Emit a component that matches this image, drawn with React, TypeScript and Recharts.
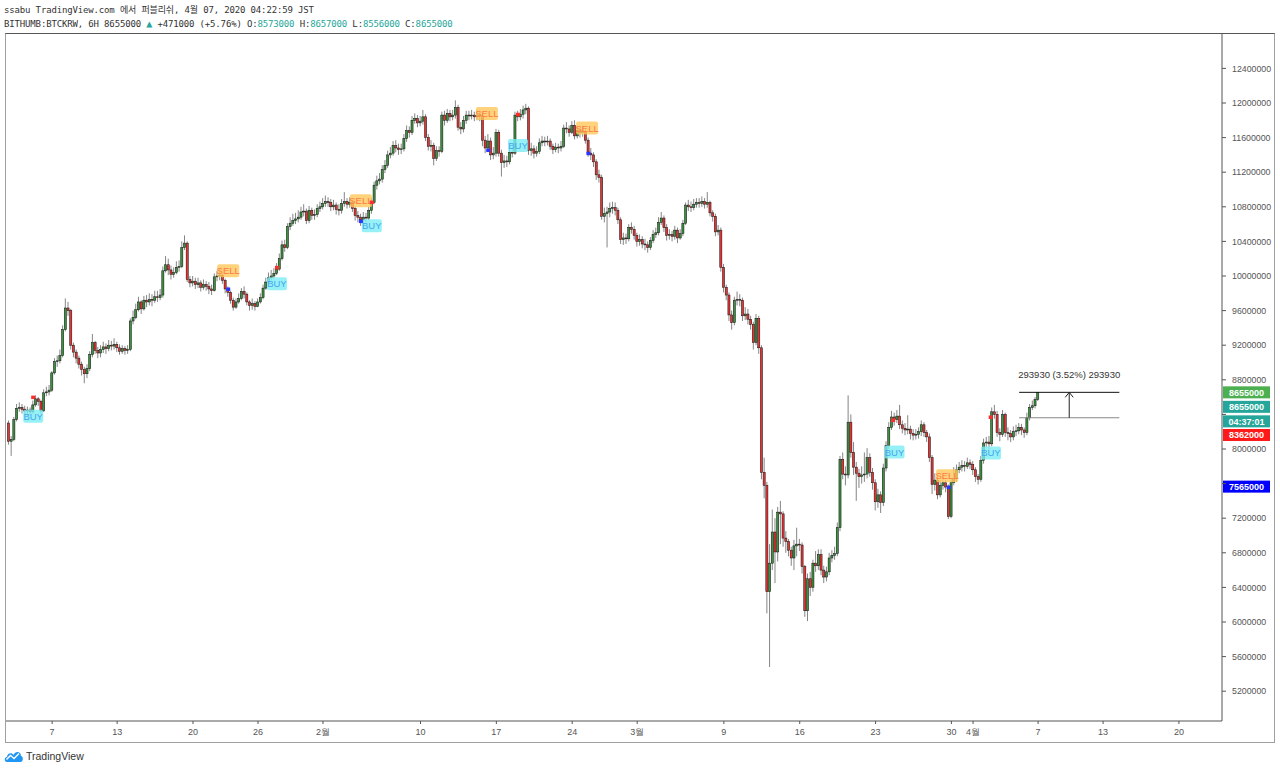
import {
  ComposedChart,
  Bar,
  XAxis,
  YAxis,
  ReferenceLine,
  ReferenceDot,
} from "recharts";

const UP = "#3a923c";
const DOWN = "#ea3232";
const TEAL = "#26a69a";
const AXIS = "#555";

// 6H candles of BITHUMB:BTCKRW, values in thousands of KRW, opens = previous close
const firstOpen = 8300;

const janClose = [
  8090, 8110, 8340, 8470, 8480, 8460, 8440, 8450, 8430, 8510,
  8580, 8550, 8440, 8650, 8660, 8680, 8880, 9010, 9020, 9080,
  9380, 9630, 9600, 9200, 9120, 9050, 8980, 8920, 8870, 8930,
  9090, 9230, 9140, 9110, 9150, 9180, 9160, 9200, 9190, 9210,
  9170, 9130, 9160, 9140, 9150, 9480, 9520, 9610, 9700, 9620,
  9720, 9700, 9730, 9720, 9760, 9750, 9780, 10060, 10130, 10070,
  10020, 10040, 10100, 10110, 10330, 10380, 9960, 9920, 9940, 9900,
  9920, 9870, 9900, 9880, 9850, 9830, 9990, 10000, 10010, 9950,
  9850, 9810, 9720, 9640, 9700, 9740, 9820, 9790, 9700, 9660,
  9680, 9650, 9700, 9750, 9860, 9930, 9980, 10000, 10030, 10080,
  10200, 10360, 10330, 10570, 10610, 10640, 10660, 10680, 10740, 10750,
  10640, 10760, 10700, 10710, 10780, 10800,
];
const janHigh = [
  8330, 8150, 8370, 8520, 8540, 8520, 8500, 8490, 8480, 8560,
  8620, 8600, 8570, 8690, 8720, 8740, 8900, 9050, 9080, 9150,
  9430, 9740, 9700, 9620, 9230, 9150, 9080, 9010, 8950, 8980,
  9130, 9330, 9250, 9180, 9200, 9240, 9220, 9260, 9250, 9280,
  9240, 9210, 9200, 9190, 9200, 9510, 9600, 9680, 9760, 9720,
  9770, 9780, 9800, 9790, 9830, 9830, 9850, 10110, 10230, 10200,
  10120, 10100, 10170, 10180, 10400, 10470, 10400, 10000, 10000, 9980,
  9980, 9950, 9960, 9940, 9930, 9900, 10030, 10060, 10080, 10030,
  9970, 9880, 9830, 9750, 9740, 9800, 9860, 9880, 9810, 9720,
  9740, 9710, 9740, 9800, 9900, 9980, 10040, 10070, 10090, 10150,
  10260, 10410, 10420, 10610, 10680, 10720, 10730, 10760, 10800, 10830,
  10780, 10810, 10790, 10770, 10830, 10860,
];
const janLow = [
  8050, 7920, 8090, 8320, 8430, 8410, 8400, 8380, 8390, 8410,
  8490, 8500, 8410, 8430, 8610, 8620, 8660, 8860, 8950, 8990,
  9060, 9360, 9540, 9150, 9060, 8990, 8930, 8850, 8760, 8820,
  8900, 9060, 9100, 9050, 9060, 9110, 9100, 9130, 9140, 9150,
  9120, 9090, 9100, 9090, 9100, 9130, 9440, 9500, 9590, 9560,
  9600, 9640, 9660, 9650, 9690, 9700, 9720, 9750, 10040, 10010,
  9960, 9980, 10020, 10050, 10090, 10300, 9930, 9870, 9880, 9850,
  9860, 9820, 9840, 9830, 9790, 9780, 9820, 9940, 9950, 9910,
  9800, 9760, 9680, 9600, 9620, 9680, 9720, 9740, 9660, 9600,
  9610, 9600, 9640, 9680, 9730, 9840, 9910, 9950, 9970, 10010,
  10060, 10180, 10280, 10310, 10530, 10580, 10600, 10620, 10650, 10690,
  10600, 10610, 10650, 10650, 10680, 10740,
];

const febClose = [
  10840, 10860, 10850, 10800, 10820, 10770, 10760, 10840, 10860, 10830,
  10850, 10780, 10700, 10680, 10650, 10680, 10670, 10760, 10850, 11050,
  11100, 11120, 11230, 11280, 11400, 11420, 11510, 11480, 11460, 11470,
  11590, 11680, 11660, 11800, 11820, 11770, 11790, 11840, 11600, 11500,
  11510, 11360, 11450, 11440, 11860, 11800, 11880, 11840, 11860, 11950,
  11720, 11700, 11800, 11860, 11850, 11860, 11840, 11860, 11850, 11570,
  11480, 11560, 11400, 11420, 11660, 11420, 11310, 11330, 11320, 11430,
  11420, 11860, 11840, 11870, 11920, 11940, 11450, 11470, 11420, 11440,
  11540, 11560, 11550, 11560, 11500, 11460, 11490, 11480, 11500, 11710,
  11700, 11660, 11740, 11620, 11680, 11660, 11670, 11570, 11420, 11400,
  11320, 11170, 11140, 10690, 10720, 10740, 10780, 10790, 10760, 10650,
  10420, 10440, 10430, 10560, 10540, 10470,
];
const febHigh = [
  10900, 10930, 10910, 10890, 10880, 10850, 10830, 10890, 10970, 10900,
  10910, 10880, 10800, 10750, 10720, 10740, 10730, 10800, 10900, 11090,
  11160, 11190, 11280, 11340, 11450, 11490, 11560, 11570, 11530, 11530,
  11640, 11740, 11730, 11850, 11880, 11860, 11850, 11920, 11870, 11640,
  11570, 11540, 11500, 11500, 11900, 11910, 11930, 11920, 11920, 12030,
  11980, 11780, 11850, 11910, 11910, 11920, 11900, 11920, 11910, 11880,
  11620, 11640, 11600, 11490, 11700, 11690, 11460, 11400, 11390, 11480,
  11490, 11900, 11910, 11930, 11970, 11990, 11960, 11540, 11510, 11500,
  11590, 11620, 11610, 11620, 11590, 11530, 11540, 11530, 11560, 11750,
  11780, 11740, 11790, 11800, 11740, 11720, 11740, 11700, 11600, 11480,
  11430, 11350, 11230, 11170, 10790, 10800, 10850, 10860, 10850, 10790,
  10680, 10500, 10490, 10600, 10620, 10580,
];
const febLow = [
  10770, 10800, 10800, 10750, 10760, 10710, 10700, 10720, 10800, 10780,
  10790, 10740, 10640, 10620, 10580, 10600, 10620, 10640, 10720, 10830,
  11000, 11060, 11080, 11190, 11250, 11360, 11390, 11430, 11400, 11410,
  11440, 11550, 11600, 11630, 11760, 11720, 11730, 11750, 11560, 11450,
  11440, 11280, 11330, 11380, 11420, 11740, 11770, 11790, 11800, 11820,
  11680, 11640, 11660, 11760, 11800, 11810, 11790, 11800, 11790, 11500,
  11420, 11440, 11340, 11350, 11380, 11380, 11150, 11250, 11260, 11290,
  11370, 11400, 11790, 11800, 11820, 11870, 11400, 11390, 11360, 11380,
  11410, 11500, 11500, 11510, 11460, 11410, 11430, 11420, 11440, 11480,
  11650, 11610, 11640, 11580, 11590, 11600, 11610, 11530, 11380, 11340,
  11260, 11110, 11080, 10650, 10620, 10330, 10680, 10720, 10700, 10600,
  10370, 10360, 10370, 10400, 10490, 10420,
];

const marClose = [
  10400, 10420, 10370, 10360, 10330, 10410, 10480, 10500, 10620, 10670,
  10560, 10470, 10480, 10460, 10530, 10440, 10490, 10610, 10820, 10800,
  10790, 10830, 10850, 10840, 10860, 10830, 10850, 10730, 10690, 10510,
  10530, 10100, 9870, 9780, 9550, 9460, 9720, 9730, 9720, 9540,
  9560, 9500, 9440, 9230, 9510, 9170, 7730, 7580, 6350, 6680,
  7040, 6810, 7270, 7250, 6970, 6930, 6830, 6740, 6880, 6900,
  6890, 6640, 6130, 6500, 6400, 6680, 6650, 6780, 6600, 6520,
  6580, 6740, 6770, 6790, 7090, 7880, 7710, 7700, 8310, 7960,
  7790, 7720, 7680, 7700, 7710, 7900, 7730, 7610, 7390, 7470,
  7380, 7780, 8040, 8250, 8370, 8340, 8380, 8280, 8240, 8220,
  8230, 8180, 8160, 8170, 8200, 8280, 8190, 8140, 7900, 7590,
  7640, 7470, 7580, 7610, 7560, 7220, 7610, 7660, 7760, 7790,
  7810, 7800, 7840, 7820,
];
const marHigh = [
  10500, 10480, 10460, 10430, 10400, 10450, 10530, 10560, 10680, 10740,
  10700, 10600, 10540, 10520, 10580, 10560, 10540, 10650, 10850, 10880,
  10860, 10890, 10900, 10900, 10920, 10900, 10970, 10870, 10760, 10720,
  10590, 10560, 10140, 9900, 9810, 9600, 9760, 9820, 9790, 9750,
  9640, 9620, 9540, 9470, 9560, 9540, 9200, 7900, 7620, 6900,
  7300, 7200, 7330, 7400, 7280, 7050, 6960, 6870, 6950, 7090,
  6960, 6920, 6660, 6560, 6580, 6720, 6820, 6840, 6840, 6650,
  6640, 6800, 6830, 6870, 7150, 7920, 7960, 7800, 8620, 8400,
  8080, 7850, 7770, 7800, 7960, 8010, 7950, 7780, 7650, 7540,
  7510, 7830, 8090, 8310, 8440, 8420, 8450, 8510, 8330, 8300,
  8390, 8270, 8230, 8230, 8250, 8330, 8310, 8220, 8180, 7930,
  7720, 7690, 7640, 7680, 7640, 7590, 7650, 7790, 7820, 7850,
  7870, 7860, 7900, 7880,
];
const marLow = [
  10340, 10350, 10320, 10300, 10270, 10300, 10380, 10440, 10470, 10590,
  10510, 10410, 10420, 10400, 10420, 10380, 10420, 10460, 10590, 10750,
  10740, 10760, 10790, 10790, 10800, 10780, 10790, 10690, 10630, 10460,
  10470, 10050, 9810, 9720, 9480, 9380, 9430, 9660, 9650, 9480,
  9490, 9440, 9380, 9150, 9200, 9100, 7650, 7430, 6100, 5480,
  6600, 6450, 6700, 6900, 6870, 6800, 6760, 6650, 6600, 6760,
  6820, 6560, 6060, 6010, 6300, 6350, 6580, 6600, 6540, 6450,
  6470, 6540, 6690, 6720, 6760, 7050, 7650, 7580, 7660, 7900,
  7700, 7400, 7550, 7600, 7620, 7660, 7680, 7530, 7290, 7320,
  7260, 7340, 7740, 8000, 8220, 8270, 8300, 8230, 8180, 8160,
  8170, 8110, 8100, 8110, 8120, 8150, 8140, 8080, 7850, 7480,
  7520, 7420, 7440, 7530, 7500, 7190, 7200, 7580, 7620, 7720,
  7740, 7740, 7770, 7770,
];

const aprClose = [
  7760, 7680, 7650, 7870, 8070, 8080, 8060, 8430, 8400, 8190,
  8170, 8400, 8190, 8180, 8140, 8200, 8210, 8250, 8220, 8190,
  8360, 8480, 8500, 8573, 8655,
];
const aprHigh = [
  7860, 7790, 7710, 7920, 8120, 8140, 8150, 8480, 8510, 8440,
  8240, 8450, 8420, 8250, 8220, 8260, 8280, 8300, 8290, 8250,
  8420, 8520, 8560, 8600, 8657,
];
const aprLow = [
  7700, 7620, 7590, 7620, 7830, 8020, 7990, 8030, 8350, 8140,
  8090, 8140, 8140, 8100, 8080, 8100, 8150, 8170, 8160, 8130,
  8160, 8330, 8450, 8470, 8556,
];

// x axis: candle index counted from 2020-01-03 00:00, one step = 6 hours
const startMs = Date.UTC(2020, 0, 3);
const stepMs = 6 * 3600 * 1000;
const tickDates = [
  "2020-01-07", "2020-01-13", "2020-01-20", "2020-01-26", "2020-02-01",
  "2020-02-10", "2020-02-17", "2020-02-24", "2020-03-01", "2020-03-09",
  "2020-03-16", "2020-03-23", "2020-03-30", "2020-04-01", "2020-04-07",
  "2020-04-13", "2020-04-20",
];
const tickLabels = [
  "7", "13", "20", "26", "2월", "10", "17", "24", "3월", "9",
  "16", "23", "30", "4월", "7", "13", "20",
];
const xTicks = tickDates.map((d) => (Date.parse(d) - startMs) / stepMs);

const yTicks = [
  5200000, 5600000, 6000000, 6400000, 6800000, 7200000, 7600000, 8000000,
  8400000, 8800000, 9200000, 9600000, 10000000, 10400000, 10800000,
  11200000, 11600000, 12000000, 12400000,
];
// tick labels that sit under the price tags on the scale
const coveredTicks = [7600000, 8400000];

// BUY / SELL signal labels (candle index, price in thousands)
const signalIdx = [9, 81, 99, 130, 134, 176.5, 188, 213.5, 327, 346.4, 362.6];
const signalPrice = [8380, 10060, 9910, 10870, 10580, 11880, 11510, 11710, 7965, 7690, 7955];
const signalKind = ["BUY", "SELL", "BUY", "SELL", "BUY", "SELL", "BUY", "SELL", "BUY", "SELL", "BUY"];

const blueIdx = [81, 130, 177, 214, 347];
const bluePrice = [9850, 10635, 11456, 11420, 7560];
const redIdx = [9, 99, 134, 188, 326.5, 362.5];
const redPrice = [8600, 10100, 10855, 11870, 8335, 8370];

// price tags on the right scale
const lastPrice = 8655000;
const indicatorPrice = 8362000;
const bluePriceTag = 7565000;
const countdown = "04:37:01";

// measuring tool
const measureTop = 8655000;
const measureDelta = 293930;
const measureFrom = 373;
const measureTo = 410;

const closes = [...janClose, ...febClose, ...marClose, ...aprClose];
const highs = [...janHigh, ...febHigh, ...marHigh, ...aprHigh];
const lows = [...janLow, ...febLow, ...marLow, ...aprLow];

const candles = closes.map((c, i) => {
  const o = (i === 0 ? firstOpen : closes[i - 1]) * 1000;
  const cl = c * 1000;
  const h = Math.max(highs[i] * 1000, o, cl);
  const l = Math.min(lows[i] * 1000, o, cl);
  return { i, o, c: cl, h, l, range: [l, h] };
});

const Candle = (props: any) => {
  const { x, y, width, height, payload } = props;
  if (!payload || height == null) return null;
  const { o, c, h, l } = payload;
  const cx = x + width / 2;
  const span = h - l || 1;
  const py = (v: number) => y + ((h - v) / span) * height;
  const top = py(Math.max(o, c));
  const bot = py(Math.min(o, c));
  return (
    <g>
      <line x1={cx} x2={cx} y1={y} y2={y + height} stroke="#777" strokeWidth={0.9} />
      <rect
        x={cx - 1.05}
        y={top}
        width={2.1}
        height={Math.max(bot - top, 0.8)}
        fill={c >= o ? UP : DOWN}
        stroke="#1a1a1a"
        strokeWidth={0.55}
      />
    </g>
  );
};

const PriceTag = (props: any) => {
  const { viewBox, text, bg, dy } = props;
  if (!viewBox) return null;
  const x = viewBox.x + viewBox.width;
  const y = viewBox.y + dy;
  return (
    <g>
      <rect x={x + 1} y={y - 6} width={47} height={12} fill={bg} />
      <text
        x={x + 24.5}
        y={y + 3.3}
        textAnchor="middle"
        fill="#fff"
        fontSize={9}
        fontWeight="bold"
        fontFamily="'Liberation Sans', Arial, sans-serif"
      >
        {text}
      </text>
    </g>
  );
};

const SignalTag = ({ cx, cy, kind }: any) => {
  const sell = kind === "SELL";
  const w = sell ? 22 : 20;
  return (
    <g>
      <rect
        x={cx - w / 2}
        y={cy - 6.5}
        width={w}
        height={13}
        rx={2}
        fill={sell ? "#ffc85a" : "#7ceef4"}
        fillOpacity={0.8}
      />
      <text
        x={cx}
        y={cy + 3.5}
        textAnchor="middle"
        fontSize={9.5}
        fill={sell ? "#ff7a45" : "#44a6f0"}
        fontFamily="'Liberation Sans', Arial, sans-serif"
      >
        {kind}
      </text>
    </g>
  );
};

const Marker = ({ cx, cy, color }: any) => (
  <rect x={cx - 2} y={cy - 1.5} width={4} height={3.5} fill={color} />
);

const MeasureHead = ({ cx, cy }: any) => {
  const bottom = measureTop - measureDelta;
  const pct = ((measureDelta / bottom) * 100).toFixed(2);
  return (
    <g>
      <polyline
        points={`${cx - 4},${cy + 5} ${cx},${cy} ${cx + 4},${cy + 5}`}
        fill="none"
        stroke="#222"
        strokeWidth={1}
      />
      <text
        x={cx}
        y={cy - 14}
        textAnchor="middle"
        fontSize={9.5}
        fill="#333"
        fontFamily="'Liberation Sans', Arial, sans-serif"
      >
        {`${measureDelta} (${pct}%) ${measureDelta}`}
      </text>
    </g>
  );
};

const Header = () => {
  const mono = {
    position: "absolute" as const,
    left: 4,
    fontFamily: "'DejaVu Sans Mono', 'Noto Sans CJK KR', monospace",
    fontSize: 9,
    lineHeight: "12px",
    letterSpacing: -0.15,
    color: "#333",
    whiteSpace: "pre" as const,
  };
  return (
    <>
      <div style={{ ...mono, top: 4 }}>ssabu TradingView.com 에서 퍼블리쉬, 4월 07, 2020 04:22:59 JST</div>
      <div style={{ ...mono, top: 18 }}>
        {"BITHUMB:BTCKRW, 6H 8655000 "}
        <span style={{ color: TEAL, fontSize: 10 }}>▲</span>
        {" +471000 (+5.76%) O:"}
        <span style={{ color: TEAL }}>8573000</span>
        {" H:"}
        <span style={{ color: TEAL }}>8657000</span>
        {" L:"}
        <span style={{ color: TEAL }}>8556000</span>
        {" C:"}
        <span style={{ color: TEAL }}>8655000</span>
      </div>
    </>
  );
};

const Footer = () => (
  <div style={{ position: "absolute", left: 4, top: 749, display: "flex", alignItems: "center", gap: 3 }}>
    <svg width={19} height={14} viewBox="0 0 19 14">
      <path d="M3 13 C0 13 0 8 3 8 C3 4 8 3 9.5 6 C11 2 17 2 17 7 C19.5 7 19.5 13 16.5 13 Z" fill="#2196f3" />
      <polyline points="2.5,10.5 6.5,6.5 10,9.5 15,4.5" fill="none" stroke="#fff" strokeWidth={1.4} />
    </svg>
    <span style={{ fontFamily: "'Liberation Sans', Arial, sans-serif", fontSize: 10.5, color: "#333" }}>TradingView</span>
  </div>
);

export default function App() {
  const tickLabel = (v: number) => {
    const k = xTicks.indexOf(v);
    return k >= 0 ? tickLabels[k] : "";
  };
  const priceLabel = (v: number) => (coveredTicks.includes(v) ? "" : String(v));
  return (
    <div
      style={{
        position: "absolute",
        left: 0,
        top: 0,
        width: 1280,
        height: 772,
        background: "#fff",
        overflow: "hidden",
      }}
    >
      <Header />
      <div style={{ position: "absolute", left: 5, top: 33 }}>
        <ComposedChart
          width={1270}
          height={710}
          data={candles}
          margin={{ top: 0, right: 0, bottom: 0, left: 0 }}
        >
          <XAxis
            dataKey="i"
            type="number"
            domain={[-1.4, 447.9]}
            allowDataOverflow
            ticks={xTicks}
            interval={0}
            tickFormatter={tickLabel}
            height={22}
            tickSize={3}
            tickMargin={5}
            axisLine={{ stroke: AXIS }}
            tickLine={{ stroke: AXIS }}
            tick={{ fontSize: 9, fill: AXIS, fontFamily: "'Liberation Sans', Arial, sans-serif" }}
          />
          <YAxis
            orientation="right"
            type="number"
            domain={[4855491, 12809249]}
            allowDataOverflow
            ticks={yTicks}
            interval={0}
            width={53}
            tickSize={4}
            tickMargin={6}
            axisLine={{ stroke: AXIS }}
            tickLine={{ stroke: AXIS }}
            tickFormatter={priceLabel}
            tick={{ fontSize: 8.8, fill: AXIS, fontFamily: "'Liberation Sans', Arial, sans-serif" }}
          />
          <Bar dataKey="range" barSize={2} isAnimationActive={false} shape={Candle} />

          {signalIdx.map((x, k) => (
            <ReferenceDot
              key={`sig-${k}`}
              x={x}
              y={signalPrice[k] * 1000}
              shape={(p: any) => <SignalTag cx={p.cx} cy={p.cy} kind={signalKind[k]} />}
            />
          ))}
          {blueIdx.map((x, k) => (
            <ReferenceDot
              key={`blue-${k}`}
              x={x}
              y={bluePrice[k] * 1000}
              shape={(p: any) => <Marker cx={p.cx} cy={p.cy} color="#2a35ff" />}
            />
          ))}
          {redIdx.map((x, k) => (
            <ReferenceDot
              key={`red-${k}`}
              x={x}
              y={redPrice[k] * 1000}
              shape={(p: any) => <Marker cx={p.cx} cy={p.cy} color="#ff2d2d" />}
            />
          ))}

          <ReferenceLine
            segment={[
              { x: measureFrom, y: measureTop },
              { x: measureTo, y: measureTop },
            ]}
            stroke="#111"
            strokeWidth={1}
          />
          <ReferenceLine
            segment={[
              { x: measureFrom, y: measureTop - measureDelta },
              { x: measureTo, y: measureTop - measureDelta },
            ]}
            stroke="#888"
            strokeWidth={1.2}
          />
          <ReferenceLine
            segment={[
              { x: (measureFrom + measureTo) / 2, y: measureTop - measureDelta },
              { x: (measureFrom + measureTo) / 2, y: measureTop },
            ]}
            stroke="#222"
            strokeWidth={1}
          />
          <ReferenceDot
            x={(measureFrom + measureTo) / 2}
            y={measureTop}
            shape={(p: any) => <MeasureHead cx={p.cx} cy={p.cy} />}
          />

          <ReferenceLine
            y={lastPrice}
            stroke="none"
            label={<PriceTag text={String(lastPrice)} bg="#4caf50" dy={0} />}
          />
          <ReferenceLine
            y={lastPrice}
            stroke="none"
            label={<PriceTag text={String(lastPrice)} bg={TEAL} dy={14.5} />}
          />
          <ReferenceLine
            y={lastPrice}
            stroke="none"
            label={<PriceTag text={countdown} bg={TEAL} dy={29} />}
          />
          <ReferenceLine
            y={indicatorPrice}
            stroke="none"
            label={<PriceTag text={String(indicatorPrice)} bg="#ff1a1a" dy={17.3} />}
          />
          <ReferenceLine
            y={bluePriceTag}
            stroke="none"
            label={<PriceTag text={String(bluePriceTag)} bg="#0000ff" dy={0} />}
          />
        </ComposedChart>
      </div>
      <div
        style={{
          position: "absolute",
          left: 5,
          top: 33,
          width: 1270,
          height: 710,
          boxSizing: "border-box",
          border: "1px solid #a0a0a0",
          borderTop: "1px solid #555",
          pointerEvents: "none",
        }}
      />
      <Footer />
    </div>
  );
}
